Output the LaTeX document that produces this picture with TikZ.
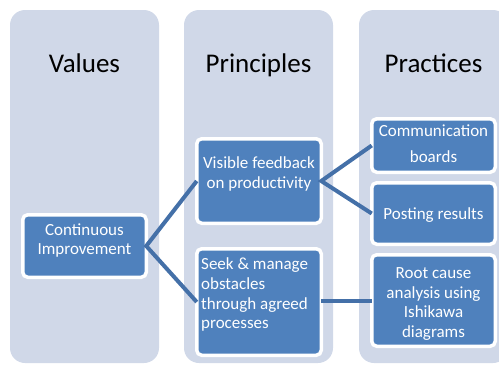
\documentclass[tikz,border=0pt]{standalone}
\usepackage{fontspec}
\setmainfont{Carlito}
\usetikzlibrary{calc}
\definecolor{colfill}{HTML}{D0D8E8}
\definecolor{boxblue}{HTML}{4F81BD}
\definecolor{linkblue}{HTML}{4470A8}
\begin{document}
\begin{tikzpicture}[x=1pt,y=-1pt,
  column/.style={fill=colfill, rounded corners=15pt},
  title/.style={font=\fontsize{27}{32}\selectfont, text=black, inner sep=0pt},
  box/.style={draw=white, line width=3.5pt, fill=boxblue, rounded corners=5pt, inner sep=0pt, outer sep=0pt},
  boxtext/.style={font=\fontsize{17}{19.6}\selectfont, text=white, inner sep=0pt, align=center},
  link/.style={draw=linkblue, line width=4pt, line join=miter}]
\useasboundingbox (0,0) rectangle (499,365);
\begin{scope}
\clip (0,0) rectangle (499,365);
\fill[column] (10,10) rectangle (159,363);
\fill[column] (184,10) rectangle (333,363);
\fill[column] (359,10) rectangle (508,363);
\end{scope}
\node[title, anchor=base] (tval) at (84.5,72) {Values};
\node[title, anchor=base] (tpri) at (258.5,72) {Principles};
\node[title, anchor=base] (tpra) at (433.5,72) {Practices};
\node[box, minimum width=123.5pt, minimum height=62.5pt] (ci) at (84.5,246) {};
\node[box, minimum width=124.5pt, minimum height=84.5pt] (vis) at (259,181) {};
\node[box, minimum width=124.5pt, minimum height=106.5pt] (seek) at (259,302) {};
\node[box, minimum width=123.5pt, minimum height=53.5pt] (comm) at (433.5,145.5) {};
\node[box, minimum width=123.5pt, minimum height=61.5pt] (post) at (433.5,213.5) {};
\node[box, minimum width=123.5pt, minimum height=91.5pt] (root) at (433.5,300.5) {};
\node[boxtext] (tci) at (84.5,240.3) {Continuous\\Improvement};
\node[boxtext] (tvis) at (259,174) {Visible feedback\\on productivity};
\node[boxtext, align=left, anchor=west] (tseek) at (201,294.7) {Seek \& manage\\obstacles\\through agreed\\processes};
\node[boxtext, font=\fontsize{17}{25.4}\selectfont] (tcomm) at (433.5,143.8) {Communication\\boards};
\node[boxtext] (tpost) at (433.5,215.3) {Posting results};
\node[boxtext] (troot) at (433.5,304) {Root cause\\analysis using\\Ishikawa\\diagrams};
\draw[link] (vis.west) -- (ci.east) -- (seek.west);
\draw[link] (comm.west) -- (vis.east) -- (post.west);
\draw[link] (seek.east |- root.west) -- (root.west);
\end{tikzpicture}
\end{document}
